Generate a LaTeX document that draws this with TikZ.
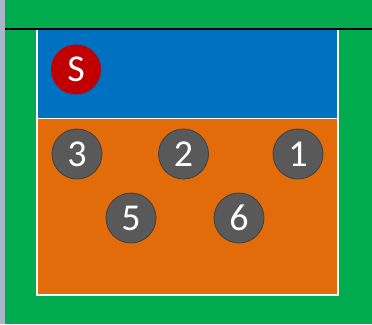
\documentclass[tikz,border=0pt]{standalone}
\usepackage{fontspec}
\setmainfont{Carlito}
\definecolor{bggreen}{HTML}{00AC4E}
\definecolor{sidegray}{HTML}{ABB5C9}
\definecolor{courtblue}{HTML}{0070C0}
\definecolor{courtorange}{HTML}{E36C0A}
\definecolor{playergray}{HTML}{595959}
\definecolor{servered}{HTML}{C00000}
\tikzset{
  player/.style={circle, draw=black!75, line width=0.8pt, fill=playergray, minimum size=50pt, inner sep=0pt, text=white, font=\fontsize{38}{38}\selectfont},
  server/.style={player, fill=servered, draw=none},
}
\begin{document}
\begin{tikzpicture}[x=1pt,y=-1pt]
\useasboundingbox (0,0) rectangle (372,324);
\fill[bggreen] (0,0) rectangle (372,324);
\fill[sidegray] (0,0) rectangle (5,324);
\draw[black, line width=2pt] (5,29) -- (372,29);
\fill[courtblue] (37,30) rectangle (338,118);
\fill[courtorange] (37,118) rectangle (338,295);
\draw[white, line width=2pt] (37,30) -- (37,295) -- (338,295) -- (338,30);
\draw[white, line width=1pt] (37,118) -- (338,118);
\node[server] (S) at (76,69.5) {S};
\node[player] (p3) at (77,154) {3};
\node[player] (p2) at (183.5,154) {2};
\node[player] (p1) at (298,154) {1};
\node[player] (p5) at (131,218) {5};
\node[player] (p6) at (239,218) {6};
\end{tikzpicture}
\end{document}
